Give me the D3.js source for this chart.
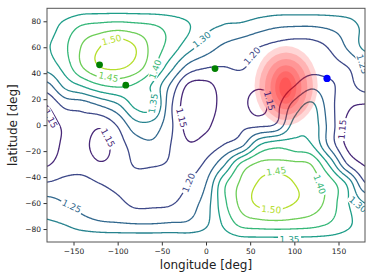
<!DOCTYPE html>
<html>
<head>
<meta charset="utf-8">
<script src="https://cdn.jsdelivr.net/npm/d3@7"></script>
<style>
  body { margin: 0; background: #fff; }
  text { font-family: "DejaVu Sans", sans-serif; }
</style>
</head>
<body>
<svg id="chart" width="374" height="280"></svg>
<script>
// field values, on a 20 deg (lon) x 15 deg (lat) grid
var fieldLon = d3.range(-180, 181, 20);
var fieldLat = d3.range(90, -91, -15);
var field = [
  [1.31, 1.32, 1.33, 1.33, 1.33, 1.33, 1.33, 1.33, 1.325, 1.32, 1.31, 1.33, 1.325, 1.32, 1.32, 1.32, 1.32, 1.32, 1.32],
  [1.325, 1.37, 1.41, 1.425, 1.435, 1.425, 1.41, 1.385, 1.355, 1.31, 1.295, 1.285, 1.265, 1.25, 1.245, 1.245, 1.255, 1.275, 1.31],
  [1.345, 1.39, 1.455, 1.50, 1.535, 1.50, 1.43, 1.38, 1.32, 1.275, 1.24, 1.22, 1.20, 1.185, 1.175, 1.18, 1.205, 1.255, 1.31],
  [1.32, 1.37, 1.45, 1.50, 1.51, 1.48, 1.41, 1.32, 1.235, 1.205, 1.20, 1.205, 1.18, 1.17, 1.17, 1.18, 1.185, 1.20, 1.24],
  [1.23, 1.31, 1.35, 1.39, 1.405, 1.39, 1.34, 1.24, 1.14, 1.135, 1.17, 1.17, 1.155, 1.165, 1.20, 1.24, 1.21, 1.185, 1.22],
  [1.15, 1.21, 1.22, 1.25, 1.29, 1.36, 1.36, 1.21, 1.12, 1.125, 1.165, 1.165, 1.13, 1.185, 1.27, 1.31, 1.22, 1.16, 1.145],
  [1.125, 1.16, 1.18, 1.16, 1.205, 1.28, 1.28, 1.21, 1.13, 1.14, 1.18, 1.19, 1.19, 1.21, 1.32, 1.33, 1.23, 1.14, 1.12],
  [1.12, 1.16, 1.165, 1.13, 1.175, 1.225, 1.24, 1.20, 1.155, 1.17, 1.20, 1.235, 1.345, 1.38, 1.37, 1.35, 1.235, 1.14, 1.115],
  [1.145, 1.175, 1.18, 1.155, 1.17, 1.205, 1.205, 1.195, 1.18, 1.21, 1.29, 1.41, 1.46, 1.465, 1.46, 1.445, 1.34, 1.20, 1.145],
  [1.205, 1.215, 1.215, 1.20, 1.19, 1.18, 1.175, 1.18, 1.20, 1.25, 1.385, 1.46, 1.505, 1.525, 1.50, 1.475, 1.425, 1.34, 1.205],
  [1.27, 1.25, 1.23, 1.215, 1.21, 1.19, 1.19, 1.195, 1.225, 1.275, 1.385, 1.465, 1.51, 1.52, 1.50, 1.475, 1.43, 1.355, 1.30],
  [1.305, 1.295, 1.27, 1.255, 1.25, 1.245, 1.245, 1.25, 1.255, 1.29, 1.36, 1.42, 1.435, 1.44, 1.435, 1.425, 1.40, 1.36, 1.33],
  [1.33, 1.335, 1.34, 1.34, 1.34, 1.34, 1.34, 1.34, 1.335, 1.33, 1.325, 1.33, 1.33, 1.33, 1.33, 1.33, 1.33, 1.33, 1.33]
];
var levels = [1.15, 1.20, 1.25, 1.30, 1.35, 1.40, 1.45, 1.50];

var xTicks = [-150, -100, -50, 0, 50, 100, 150];
var yTicks = [-80, -60, -40, -20, 0, 20, 40, 60, 80];

// red blob, nested rings (centre lon/lat, half widths in deg)
var blobLon = [90.7, 90.7, 90.7, 90.5, 90.3, 90];
var blobLat = [30.5, 30, 29.5, 29.2, 29, 28.8];
var blobRx = [35.7, 30.3, 24, 17.5, 12, 7];
var blobRy = [30.5, 26, 21.5, 17, 12.5, 8];

var greenLon = [-120.5, -90.8, 10.2];
var greenLat = [46.5, 30.8, 43.6];
var blueLon = [137];
var blueLat = [36];

// inline contour labels
var labelLon = [-107, -110.5, -57.5, -60, -5, 52, 177, 72, 154, -176, -111, -27.6, -19.7, -152, 79.5, 73.8, 128.7, 94.6, 172];
var labelLat = [65.7, 37.2, 43, 16.7, 66, 53.4, 47, 18.8, -3.3, 5, -9.7, 5.7, -44.3, -62.3, -35.4, -64.8, -45.6, -88, -61];
var labelLevel = [1.50, 1.45, 1.40, 1.35, 1.30, 1.20, 1.25, 1.15, 1.15, 1.15, 1.15, 1.15, 1.20, 1.25, 1.45, 1.50, 1.40, 1.35, 1.30];
var labelAngle = [-15, 12, -70, -80, -38, -48, 72, 75, -85, 62, 62, 75, -68, 25, -8, 5, 70, 0, 40];

var svg = d3.select("#chart");
var pL = 47, pR = 365, pT = 8.3, pB = 242;

var x = d3.scaleLinear().domain([-180, 180]).range([pL, pR]);
var y = d3.scaleLinear().domain([-90, 90]).range([pB, pT]);
var color = function(v) { return d3.interpolateViridis((v - 1.10) / 0.45); };

// smooth the coarse grid (catmull-rom) so the lines come out round
function cr(p0, p1, p2, p3, t) {
  return 0.5 * (2 * p1 + (-p0 + p2) * t + (2 * p0 - 5 * p1 + 4 * p2 - p3) * t * t + (-p0 + 3 * p1 - 3 * p2 + p3) * t * t * t);
}
var ncol = fieldLon.length, nrow = fieldLat.length;
function at(r, c) {
  r = Math.max(0, Math.min(nrow - 1, r));
  c = Math.max(0, Math.min(ncol - 1, c));
  return field[r][c];
}
function sample(lon, lat) {
  var fx = Math.max(0, Math.min(ncol - 1, (lon + 180) / 20));
  var fy = Math.max(0, Math.min(nrow - 1, (90 - lat) / 15));
  var c = Math.min(ncol - 2, Math.floor(fx)), r = Math.min(nrow - 2, Math.floor(fy));
  var tx = fx - c, ty = fy - r;
  var rows = [];
  for (var k = -1; k <= 2; k++) {
    rows.push(cr(at(r + k, c - 1), at(r + k, c), at(r + k, c + 1), at(r + k, c + 2), tx));
  }
  return cr(rows[0], rows[1], rows[2], rows[3], ty);
}

var step = 1, lon0 = -182, lat0 = 92;
var nx = 365, ny = 185;
var vals = new Array(nx * ny);
for (var j = 0; j < ny; j++) {
  for (var i = 0; i < nx; i++) {
    vals[j * nx + i] = sample(lon0 + i * step, lat0 - j * step);
  }
}
var contours = d3.contours().size([nx, ny]).thresholds(levels)(vals);
var path = d3.geoPath(d3.geoTransform({
  point: function(px, py) {
    this.stream.point(x(lon0 + (px - 0.5) * step), y(lat0 - (py - 0.5) * step));
  }
}));

var defs = svg.append("defs");
defs.append("clipPath").attr("id", "plotclip")
  .append("rect").attr("x", pL).attr("y", pT).attr("width", pR - pL).attr("height", pB - pT);
var mask = defs.append("mask").attr("id", "gaps").attr("maskUnits", "userSpaceOnUse")
  .attr("x", 0).attr("y", 0).attr("width", 374).attr("height", 280);
mask.append("rect").attr("width", 374).attr("height", 280).attr("fill", "white");

var plot = svg.append("g").attr("clip-path", "url(#plotclip)");

plot.append("g")
  .attr("mask", "url(#gaps)")
  .selectAll("path")
  .data(contours)
  .enter().append("path")
    .attr("d", path)
    .attr("fill", "none")
    .attr("stroke", function(d) { return color(d.value); })
    .attr("stroke-width", 1.3);

// blob
plot.append("g").selectAll("ellipse")
  .data(blobLon)
  .enter().append("ellipse")
    .attr("cx", function(d, i) { return x(blobLon[i]); })
    .attr("cy", function(d, i) { return y(blobLat[i]); })
    .attr("rx", function(d, i) { return x(blobRx[i]) - x(0); })
    .attr("ry", function(d, i) { return y(0) - y(blobRy[i]); })
    .attr("fill", "red")
    .attr("fill-opacity", 0.16);

// contour labels
var fmt = d3.format(".2f");
var labels = plot.append("g").selectAll("text")
  .data(labelLon)
  .enter().append("text")
    .attr("transform", function(d, i) {
      return "translate(" + x(labelLon[i]) + "," + y(labelLat[i]) + ") rotate(" + labelAngle[i] + ")";
    })
    .attr("text-anchor", "middle")
    .attr("dy", "0.36em")
    .attr("font-size", 9)
    .attr("fill", function(d, i) { return color(labelLevel[i]); })
    .text(function(d, i) { return fmt(labelLevel[i]); });

labels.each(function(d, i) {
  var w = this.getComputedTextLength() + 3;
  mask.append("rect")
    .attr("x", -w / 2).attr("y", -4.5).attr("width", w).attr("height", 9)
    .attr("fill", "black")
    .attr("transform", "translate(" + x(labelLon[i]) + "," + y(labelLat[i]) + ") rotate(" + labelAngle[i] + ")");
});

// points
plot.append("g").selectAll("circle")
  .data(greenLon)
  .enter().append("circle")
    .attr("cx", function(d, i) { return x(greenLon[i]); })
    .attr("cy", function(d, i) { return y(greenLat[i]); })
    .attr("r", 3.4)
    .attr("fill", "green");
plot.append("g").selectAll("circle")
  .data(blueLon)
  .enter().append("circle")
    .attr("cx", function(d, i) { return x(blueLon[i]); })
    .attr("cy", function(d, i) { return y(blueLat[i]); })
    .attr("r", 3.6)
    .attr("fill", "blue");

// axes
var xAxis = svg.append("g")
  .attr("transform", "translate(0," + pB + ")")
  .call(d3.axisBottom(x).tickValues(xTicks).tickSize(3.5).tickPadding(3));
var yAxis = svg.append("g")
  .attr("transform", "translate(" + pL + ",0)")
  .call(d3.axisLeft(y).tickValues(yTicks).tickSize(3.5).tickPadding(2.5));
[xAxis, yAxis].forEach(function(a) {
  a.select(".domain").remove();
  a.selectAll("line").attr("stroke", "#333");
  a.selectAll("text").attr("font-size", 7.5).attr("fill", "#222")
    .attr("font-family", "DejaVu Sans, sans-serif");
});

svg.append("rect")
  .attr("x", pL).attr("y", pT).attr("width", pR - pL).attr("height", pB - pT)
  .attr("fill", "none").attr("stroke", "#555").attr("stroke-width", 1);

svg.append("text")
  .attr("x", (pL + pR) / 2).attr("y", 269)
  .attr("text-anchor", "middle").attr("font-size", 12).attr("fill", "#222")
  .text("longitude [deg]");
svg.append("text")
  .attr("transform", "translate(17," + (pT + pB) / 2 + ") rotate(-90)")
  .attr("text-anchor", "middle").attr("font-size", 12).attr("fill", "#222")
  .text("latitude [deg]");
</script>
</body>
</html>
